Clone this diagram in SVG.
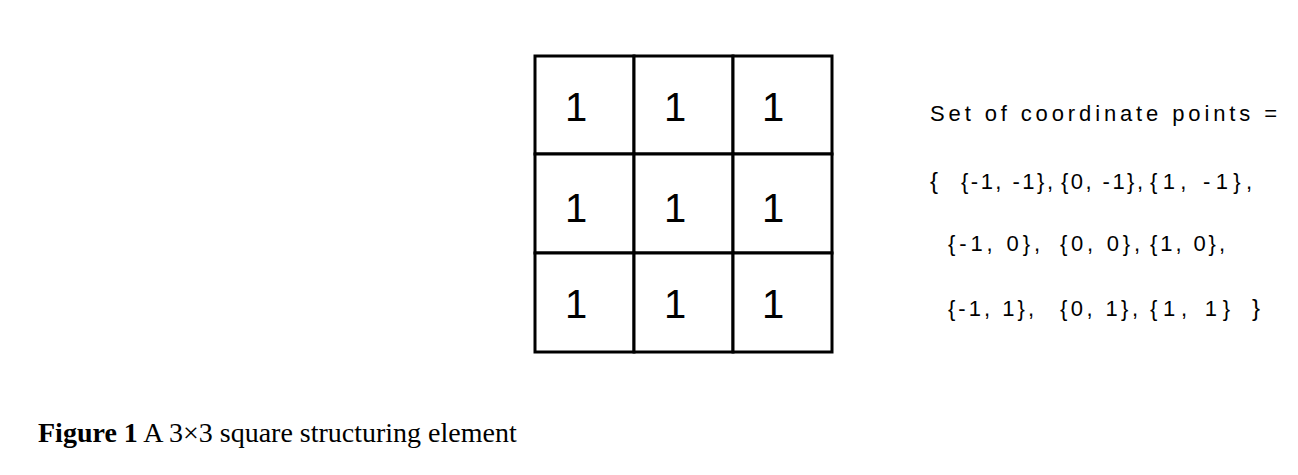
<svg xmlns="http://www.w3.org/2000/svg" width="1298" height="475" viewBox="0 0 1298 475">
<style>
.cell{fill:#fff;stroke:#000;stroke-width:3}
.one{font-family:"Liberation Sans",Arial,sans-serif;font-size:40px;fill:#000;text-anchor:middle}
.set{font-family:"Liberation Sans",Arial,sans-serif;font-size:22px;fill:#000}
.cap{font-family:"Liberation Serif","Times New Roman",serif;font-size:28px;fill:#000}
</style>
<rect width="1298" height="475" fill="#fff"/>
<g id="grid">
<rect class="cell" x="535" y="56" width="99" height="98"/>
<rect class="cell" x="634" y="56" width="99" height="98"/>
<rect class="cell" x="733" y="56" width="99" height="98"/>
<rect class="cell" x="535" y="154" width="99" height="99"/>
<rect class="cell" x="634" y="154" width="99" height="99"/>
<rect class="cell" x="733" y="154" width="99" height="99"/>
<rect class="cell" x="535" y="253" width="99" height="99"/>
<rect class="cell" x="634" y="253" width="99" height="99"/>
<rect class="cell" x="733" y="253" width="99" height="99"/>
<text class="one" x="576" y="121">1</text>
<text class="one" x="675" y="121">1</text>
<text class="one" x="773" y="121">1</text>
<text class="one" x="576" y="222">1</text>
<text class="one" x="675" y="222">1</text>
<text class="one" x="773" y="222">1</text>
<text class="one" x="576" y="318">1</text>
<text class="one" x="675" y="318">1</text>
<text class="one" x="773" y="318">1</text>
</g>
<g id="coords">
<text class="set" x="930" y="121" font-size="24" textLength="347" lengthAdjust="spacing">Set of coordinate points =</text>
<text class="set" y="189"><tspan x="930" font-size="24">{</tspan><tspan x="961" textLength="92">{-1, -1},</tspan><tspan x="1061" textLength="82">{0, -1},</tspan><tspan x="1150" textLength="102">{1, -1},</tspan></text>
<text class="set" y="251"><tspan x="948" textLength="92">{-1, 0},</tspan><tspan x="1060" textLength="80">{0, 0},</tspan><tspan x="1150" textLength="75">{1, 0},</tspan></text>
<text class="set" y="316"><tspan x="948" textLength="86">{-1, 1},</tspan><tspan x="1060" textLength="78">{0, 1},</tspan><tspan x="1150" textLength="80">{1, 1}</tspan><tspan x="1252" font-size="24">}</tspan></text>
</g>
<g id="caption">
<text class="cap" x="38" y="442"><tspan font-weight="bold">Figure 1</tspan> A 3×3 square structuring element</text>
</g>
</svg>
